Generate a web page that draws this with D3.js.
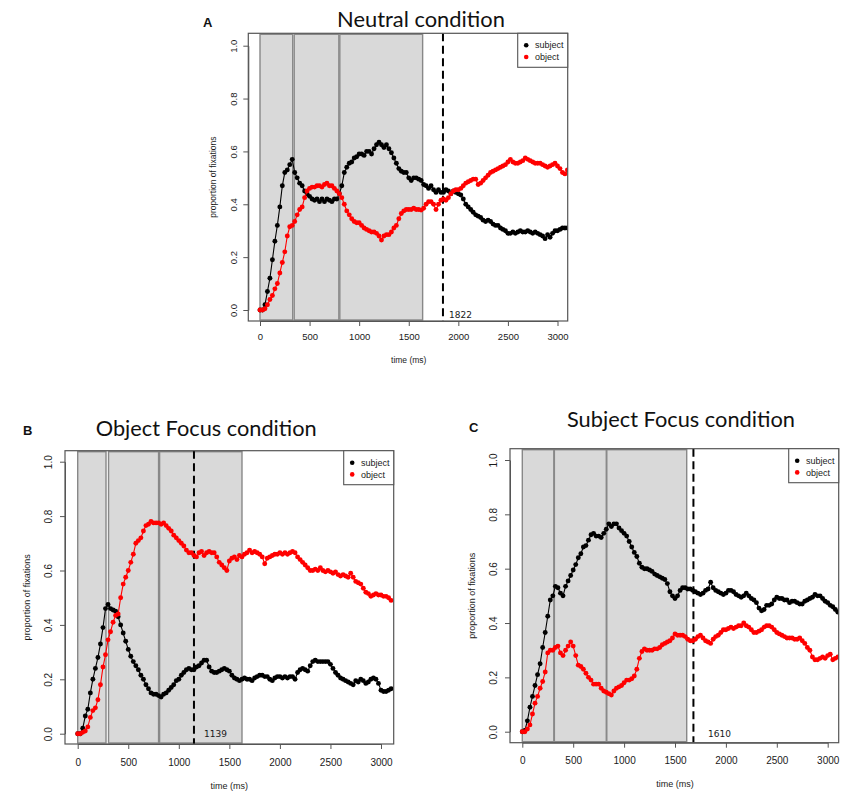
<!DOCTYPE html>
<html><head><meta charset="utf-8">
<script src="https://cdn.jsdelivr.net/npm/d3@7"></script>
<style>body{margin:0;background:#fff}svg{display:block}</style>
</head><body>
<svg id="chart" width="851" height="796"></svg>
<script>
// ---------- data ----------
const timeStep = 25; // ms between samples (samples start at 0 ms)
const xTicks = [0, 500, 1000, 1500, 2000, 2500, 3000];
const yTicks = [0, 0.2, 0.4, 0.6, 0.8, 1.0];
const seriesNames = ["subject", "object"];
const seriesColors = ["#000000", "#ff0000"];
const panelTitles = ["Neutral condition", "Object Focus condition", "Subject Focus condition"];
const panelLetters = ["A", "B", "C"];

const neutralSubject = [
  0.00,0.00,0.02,0.07,0.12,0.19,0.26,0.32,0.39,0.47,
  0.52,0.53,0.55,0.57,0.52,0.50,0.48,0.47,0.45,0.44,
  0.43,0.42,0.415,0.42,0.41,0.42,0.41,0.42,0.415,0.41,
  0.42,0.42,0.44,0.47,0.52,0.54,0.555,0.56,0.575,0.58,
  0.59,0.59,0.585,0.60,0.60,0.59,0.61,0.625,0.635,0.625,
  0.615,0.625,0.61,0.595,0.575,0.555,0.535,0.525,0.52,0.52,
  0.50,0.49,0.50,0.50,0.495,0.49,0.475,0.47,0.46,0.47,
  0.455,0.445,0.455,0.445,0.445,0.455,0.45,0.44,0.45,0.445,
  0.44,0.435,0.42,0.40,0.39,0.38,0.37,0.36,0.355,0.35,
  0.34,0.335,0.34,0.335,0.325,0.32,0.32,0.31,0.305,0.30,
  0.29,0.29,0.295,0.29,0.295,0.30,0.295,0.295,0.30,0.295,
  0.29,0.295,0.29,0.285,0.28,0.27,0.285,0.275,0.29,0.30,
  0.30,0.305,0.31,0.31,0.31
];
const neutralObject = [
  0.00,0.00,0.005,0.02,0.04,0.055,0.08,0.10,0.14,0.18,
  0.22,0.28,0.315,0.32,0.335,0.36,0.38,0.39,0.425,0.45,
  0.46,0.465,0.465,0.47,0.47,0.465,0.475,0.48,0.47,0.47,
  0.46,0.45,0.44,0.425,0.40,0.375,0.36,0.345,0.335,0.33,
  0.33,0.32,0.31,0.305,0.30,0.295,0.295,0.29,0.28,0.265,
  0.28,0.285,0.285,0.295,0.31,0.32,0.345,0.365,0.375,0.38,
  0.38,0.38,0.385,0.38,0.38,0.378,0.385,0.40,0.41,0.41,
  0.40,0.38,0.40,0.415,0.42,0.415,0.425,0.44,0.45,0.455,
  0.455,0.46,0.47,0.48,0.485,0.49,0.495,0.495,0.475,0.48,
  0.49,0.50,0.51,0.52,0.525,0.53,0.535,0.54,0.545,0.55,
  0.56,0.57,0.56,0.555,0.555,0.56,0.565,0.575,0.57,0.565,
  0.56,0.555,0.555,0.555,0.55,0.545,0.54,0.545,0.55,0.555,
  0.545,0.535,0.52,0.515,0.53
];
const objFocusSubject = [
  0.00,0.00,0.02,0.065,0.09,0.15,0.20,0.24,0.28,0.33,
  0.39,0.46,0.475,0.46,0.455,0.45,0.43,0.40,0.37,0.34,
  0.31,0.285,0.265,0.25,0.235,0.215,0.20,0.18,0.165,0.15,
  0.145,0.145,0.14,0.135,0.145,0.15,0.16,0.17,0.18,0.195,
  0.20,0.215,0.225,0.235,0.24,0.235,0.235,0.245,0.25,0.26,
  0.27,0.27,0.245,0.23,0.225,0.225,0.23,0.235,0.24,0.235,
  0.23,0.215,0.205,0.20,0.195,0.20,0.205,0.20,0.20,0.195,
  0.205,0.21,0.215,0.215,0.21,0.21,0.20,0.195,0.205,0.21,
  0.21,0.205,0.21,0.205,0.21,0.21,0.20,0.225,0.235,0.24,
  0.235,0.23,0.25,0.265,0.27,0.265,0.265,0.265,0.265,0.265,
  0.255,0.24,0.225,0.215,0.205,0.20,0.195,0.19,0.185,0.18,
  0.195,0.19,0.20,0.195,0.185,0.19,0.20,0.205,0.20,0.185,
  0.16,0.155,0.155,0.16,0.165
];
const objFocusObject = [
  0.00,0.00,0.005,0.01,0.025,0.06,0.085,0.095,0.125,0.18,
  0.245,0.29,0.345,0.375,0.41,0.435,0.44,0.50,0.55,0.575,
  0.60,0.63,0.66,0.70,0.71,0.72,0.745,0.765,0.77,0.78,
  0.775,0.775,0.775,0.77,0.775,0.765,0.755,0.745,0.73,0.72,
  0.71,0.70,0.69,0.675,0.665,0.665,0.655,0.65,0.665,0.67,
  0.655,0.665,0.67,0.665,0.665,0.65,0.63,0.62,0.61,0.60,
  0.635,0.645,0.65,0.64,0.655,0.65,0.66,0.665,0.675,0.665,
  0.67,0.665,0.66,0.65,0.625,0.645,0.65,0.655,0.66,0.66,
  0.665,0.66,0.665,0.66,0.665,0.67,0.665,0.65,0.64,0.63,
  0.62,0.61,0.60,0.60,0.605,0.60,0.61,0.60,0.595,0.60,
  0.595,0.59,0.595,0.585,0.58,0.585,0.58,0.575,0.59,0.575,
  0.56,0.555,0.55,0.535,0.52,0.515,0.505,0.51,0.515,0.51,
  0.51,0.505,0.505,0.50,0.49
];
const subjFocusSubject = [
  0.00,0.005,0.04,0.09,0.13,0.17,0.21,0.25,0.31,0.365,
  0.425,0.485,0.50,0.535,0.53,0.51,0.50,0.535,0.555,0.575,
  0.595,0.615,0.64,0.655,0.68,0.685,0.705,0.725,0.73,0.72,
  0.72,0.715,0.73,0.745,0.765,0.755,0.765,0.765,0.75,0.74,
  0.73,0.72,0.70,0.68,0.66,0.645,0.62,0.605,0.60,0.60,
  0.595,0.59,0.58,0.575,0.57,0.565,0.56,0.545,0.515,0.50,
  0.49,0.50,0.52,0.53,0.53,0.525,0.525,0.52,0.515,0.51,
  0.505,0.51,0.52,0.525,0.55,0.53,0.52,0.515,0.51,0.505,
  0.51,0.52,0.52,0.515,0.505,0.50,0.495,0.50,0.51,0.50,
  0.49,0.485,0.475,0.455,0.445,0.45,0.465,0.465,0.47,0.485,
  0.495,0.49,0.49,0.485,0.485,0.475,0.48,0.48,0.475,0.47,
  0.47,0.48,0.485,0.49,0.495,0.505,0.50,0.50,0.49,0.48,
  0.475,0.465,0.46,0.45,0.44
];
const subjFocusObject = [
  0.00,0.00,0.01,0.025,0.065,0.105,0.13,0.16,0.185,0.22,
  0.29,0.30,0.30,0.31,0.315,0.29,0.28,0.30,0.315,0.33,
  0.315,0.28,0.245,0.24,0.23,0.215,0.20,0.19,0.175,0.175,
  0.175,0.16,0.15,0.145,0.14,0.135,0.15,0.16,0.165,0.17,
  0.18,0.19,0.19,0.195,0.205,0.23,0.27,0.295,0.305,0.30,
  0.30,0.30,0.305,0.305,0.31,0.32,0.325,0.33,0.335,0.345,
  0.36,0.355,0.355,0.355,0.35,0.34,0.335,0.335,0.34,0.35,
  0.355,0.345,0.335,0.33,0.325,0.34,0.35,0.355,0.365,0.375,
  0.375,0.38,0.385,0.38,0.385,0.39,0.39,0.40,0.39,0.385,
  0.375,0.365,0.365,0.37,0.375,0.385,0.39,0.39,0.385,0.375,
  0.365,0.36,0.355,0.35,0.345,0.345,0.345,0.34,0.34,0.345,
  0.335,0.325,0.31,0.30,0.275,0.265,0.265,0.27,0.275,0.27,
  0.28,0.285,0.265,0.27,0.275
];

// shaded time windows (ms) and dashed marker per panel
const neutralRegions = [[0, 330], [345, 795], [805, 1640]];
const objFocusRegions = [[0, 280], [305, 800], [810, 1625]];
const subjFocusRegions = [[0, 310], [315, 825], [830, 1615]];
const markerTimes = [1845, 1150, 1681];
const markerLabels = ["1822", "1139", "1610"];

// ---------- layout (styles only) ----------
const layouts = [
  { box:{l:248.3,r:567.7,t:33.3,b:321}, x0:260, x3000:557.5, y0:310, y1:45.7,
    tickFont:9.5, labFont:8.5, xLabOff:16, yLabOff:15, xTitleOff:39, yTitleOff:35,
    title:{cx:421, base:27.3, w:168}, letter:{x:203, base:27},
    mLabelAt:1906, mLabelBase:317.7 },
  { box:{l:65,r:393.7,t:450.7,b:744}, x0:77.7, x3000:381, y0:733.7, y1:461.7,
    tickFont:10, labFont:9, xLabOff:18, yLabOff:16.7, xTitleOff:42, yTitleOff:38.3,
    title:{cx:206.2, base:436, w:221}, letter:{x:23, base:435},
    mLabelAt:1249, mLabelBase:737.3 },
  { box:{l:510,r:838.7,t:448.7,b:742.7}, x0:522.3, x3000:827.7, y0:731.7, y1:460,
    tickFont:10, labFont:9, xLabOff:17.3, yLabOff:16.7, xTitleOff:41.3, yTitleOff:38.3,
    title:{cx:681, base:426.7, w:228}, letter:{x:469, base:431.7},
    mLabelAt:1824, mLabelBase:736.7 }
];
const panelSeries = [[neutralSubject, neutralObject], [objFocusSubject, objFocusObject], [subjFocusSubject, subjFocusObject]];
const panelRegions = [neutralRegions, objFocusRegions, subjFocusRegions];

const svg = d3.select("#chart");
const defs = svg.append("defs");
const axisCol = "#555";
const textCol = "#1a1a1a";

panelSeries.forEach((series, pi) => {
  const L = layouts[pi];
  const B = L.box;
  const x = d3.scaleLinear().domain([0, 3000]).range([L.x0, L.x3000]);
  const y = d3.scaleLinear().domain([0, 1]).range([L.y0, L.y1]);
  const g = svg.append("g");

  defs.append("clipPath").attr("id", "clip" + pi)
    .append("rect").attr("x", B.l).attr("y", B.t).attr("width", B.r - B.l).attr("height", B.b - B.t);
  const plot = g.append("g").attr("clip-path", `url(#clip${pi})`);

  // shaded windows
  plot.selectAll("rect.win").data(panelRegions[pi]).join("rect").attr("class", "win")
    .attr("x", d => x(d[0])).attr("width", d => x(d[1]) - x(d[0]))
    .attr("y", B.t + 1).attr("height", B.b - B.t - 2)
    .attr("fill", "#d9d9d9").attr("stroke", "#888").attr("stroke-width", 1.4);

  // dashed marker
  plot.append("line")
    .attr("x1", x(markerTimes[pi])).attr("x2", x(markerTimes[pi]))
    .attr("y1", B.t).attr("y2", B.b)
    .attr("stroke", "#000").attr("stroke-width", 2).attr("stroke-dasharray", "8,4.5");

  // series
  series.forEach((vals, k) => {
    const pts = vals.map((v, i) => ({t: i * timeStep, v}));
    plot.append("path").datum(pts)
      .attr("d", d3.line().x(d => x(d.t)).y(d => y(d.v)))
      .attr("fill", "none").attr("stroke", seriesColors[k]).attr("stroke-width", 1.1);
    plot.append("g").selectAll("circle").data(pts).join("circle")
      .attr("cx", d => x(d.t)).attr("cy", d => y(d.v)).attr("r", 2.45)
      .attr("fill", seriesColors[k]);
  });

  // marker label
  g.append("text").attr("x", x(L.mLabelAt)).attr("y", L.mLabelBase)
    .attr("font-family", "DejaVu Sans").attr("font-size", 9).attr("fill", textCol)
    .text(markerLabels[pi]);

  // box
  g.append("rect").attr("x", B.l).attr("y", B.t).attr("width", B.r - B.l).attr("height", B.b - B.t)
    .attr("fill", "none").attr("stroke", axisCol).attr("stroke-width", 1.2);

  // x axis
  const xa = g.append("g").attr("transform", `translate(0,${B.b})`)
    .call(d3.axisBottom(x).tickValues(xTicks).tickSize(5).tickSizeOuter(0).tickPadding(L.xLabOff - 8.5).tickFormat(d3.format("d")));
  xa.select(".domain").attr("stroke", axisCol);
  xa.selectAll(".tick line").attr("stroke", axisCol);
  xa.selectAll("text").attr("font-family", "Liberation Sans, Arial, sans-serif").attr("font-size", L.tickFont).attr("fill", textCol);

  // y axis
  const ya = g.append("g").attr("transform", `translate(${B.l},0)`)
    .call(d3.axisLeft(y).tickValues(yTicks).tickSize(5).tickSizeOuter(0).tickFormat(d3.format(".1f")));
  ya.select(".domain").attr("stroke", axisCol);
  ya.selectAll(".tick line").attr("stroke", axisCol);
  ya.selectAll("text")
    .attr("x", -L.yLabOff).attr("y", 0).attr("dy", "0.35em")
    .attr("text-anchor", "middle")
    .attr("transform", `rotate(-90,${-L.yLabOff},0)`)
    .attr("font-family", "Liberation Sans, Arial, sans-serif").attr("font-size", L.tickFont).attr("fill", textCol);

  // axis titles
  const midX = (x(0) + x(3000)) / 2;
  g.append("text").attr("x", midX).attr("y", B.b + L.xTitleOff).attr("dy", "0.35em")
    .attr("text-anchor", "middle").attr("font-family", "Liberation Sans, Arial, sans-serif")
    .attr("font-size", L.labFont).attr("fill", textCol).text("time (ms)");
  const midY = (B.t + B.b) / 2;
  const yx = B.l - L.yTitleOff;
  g.append("text").attr("x", yx).attr("y", midY).attr("dy", "0.35em")
    .attr("text-anchor", "middle").attr("transform", `rotate(-90,${yx},${midY})`)
    .attr("font-family", "Liberation Sans, Arial, sans-serif")
    .attr("font-size", L.labFont).attr("fill", textCol).text("proportion of fixations");

  // legend
  const lw = 50, lh = 34;
  const lg = g.append("g").attr("transform", `translate(${B.r - lw},${B.t})`);
  lg.append("rect").attr("width", lw).attr("height", lh).attr("fill", "#fff")
    .attr("stroke", axisCol).attr("stroke-width", 1.1);
  seriesNames.forEach((name, k) => {
    const yy = 12 + k * 11.7;
    lg.append("circle").attr("cx", 8.5).attr("cy", yy).attr("r", 2.3).attr("fill", seriesColors[k]);
    lg.append("text").attr("x", 17.3).attr("y", yy).attr("dy", "0.35em")
      .attr("font-family", "Liberation Sans, Arial, sans-serif").attr("font-size", 9).attr("fill", textCol)
      .text(name);
  });

  // title fitted to measured width
  const tt = g.append("text").attr("x", L.title.cx).attr("y", L.title.base)
    .attr("text-anchor", "middle").attr("font-family", "Lato, 'Open Sans', sans-serif")
    .attr("font-size", 20).attr("fill", "#111").text(panelTitles[pi]);
  const w = tt.node().getComputedTextLength();
  if (w > 0) tt.attr("font-size", 20 * L.title.w / w);

  // panel letter
  g.append("text").attr("x", L.letter.x).attr("y", L.letter.base)
    .attr("font-family", "Liberation Sans, Arial, sans-serif").attr("font-weight", "bold")
    .attr("font-size", 13).attr("fill", "#111").text(panelLetters[pi]);
});
</script>
</body></html>
